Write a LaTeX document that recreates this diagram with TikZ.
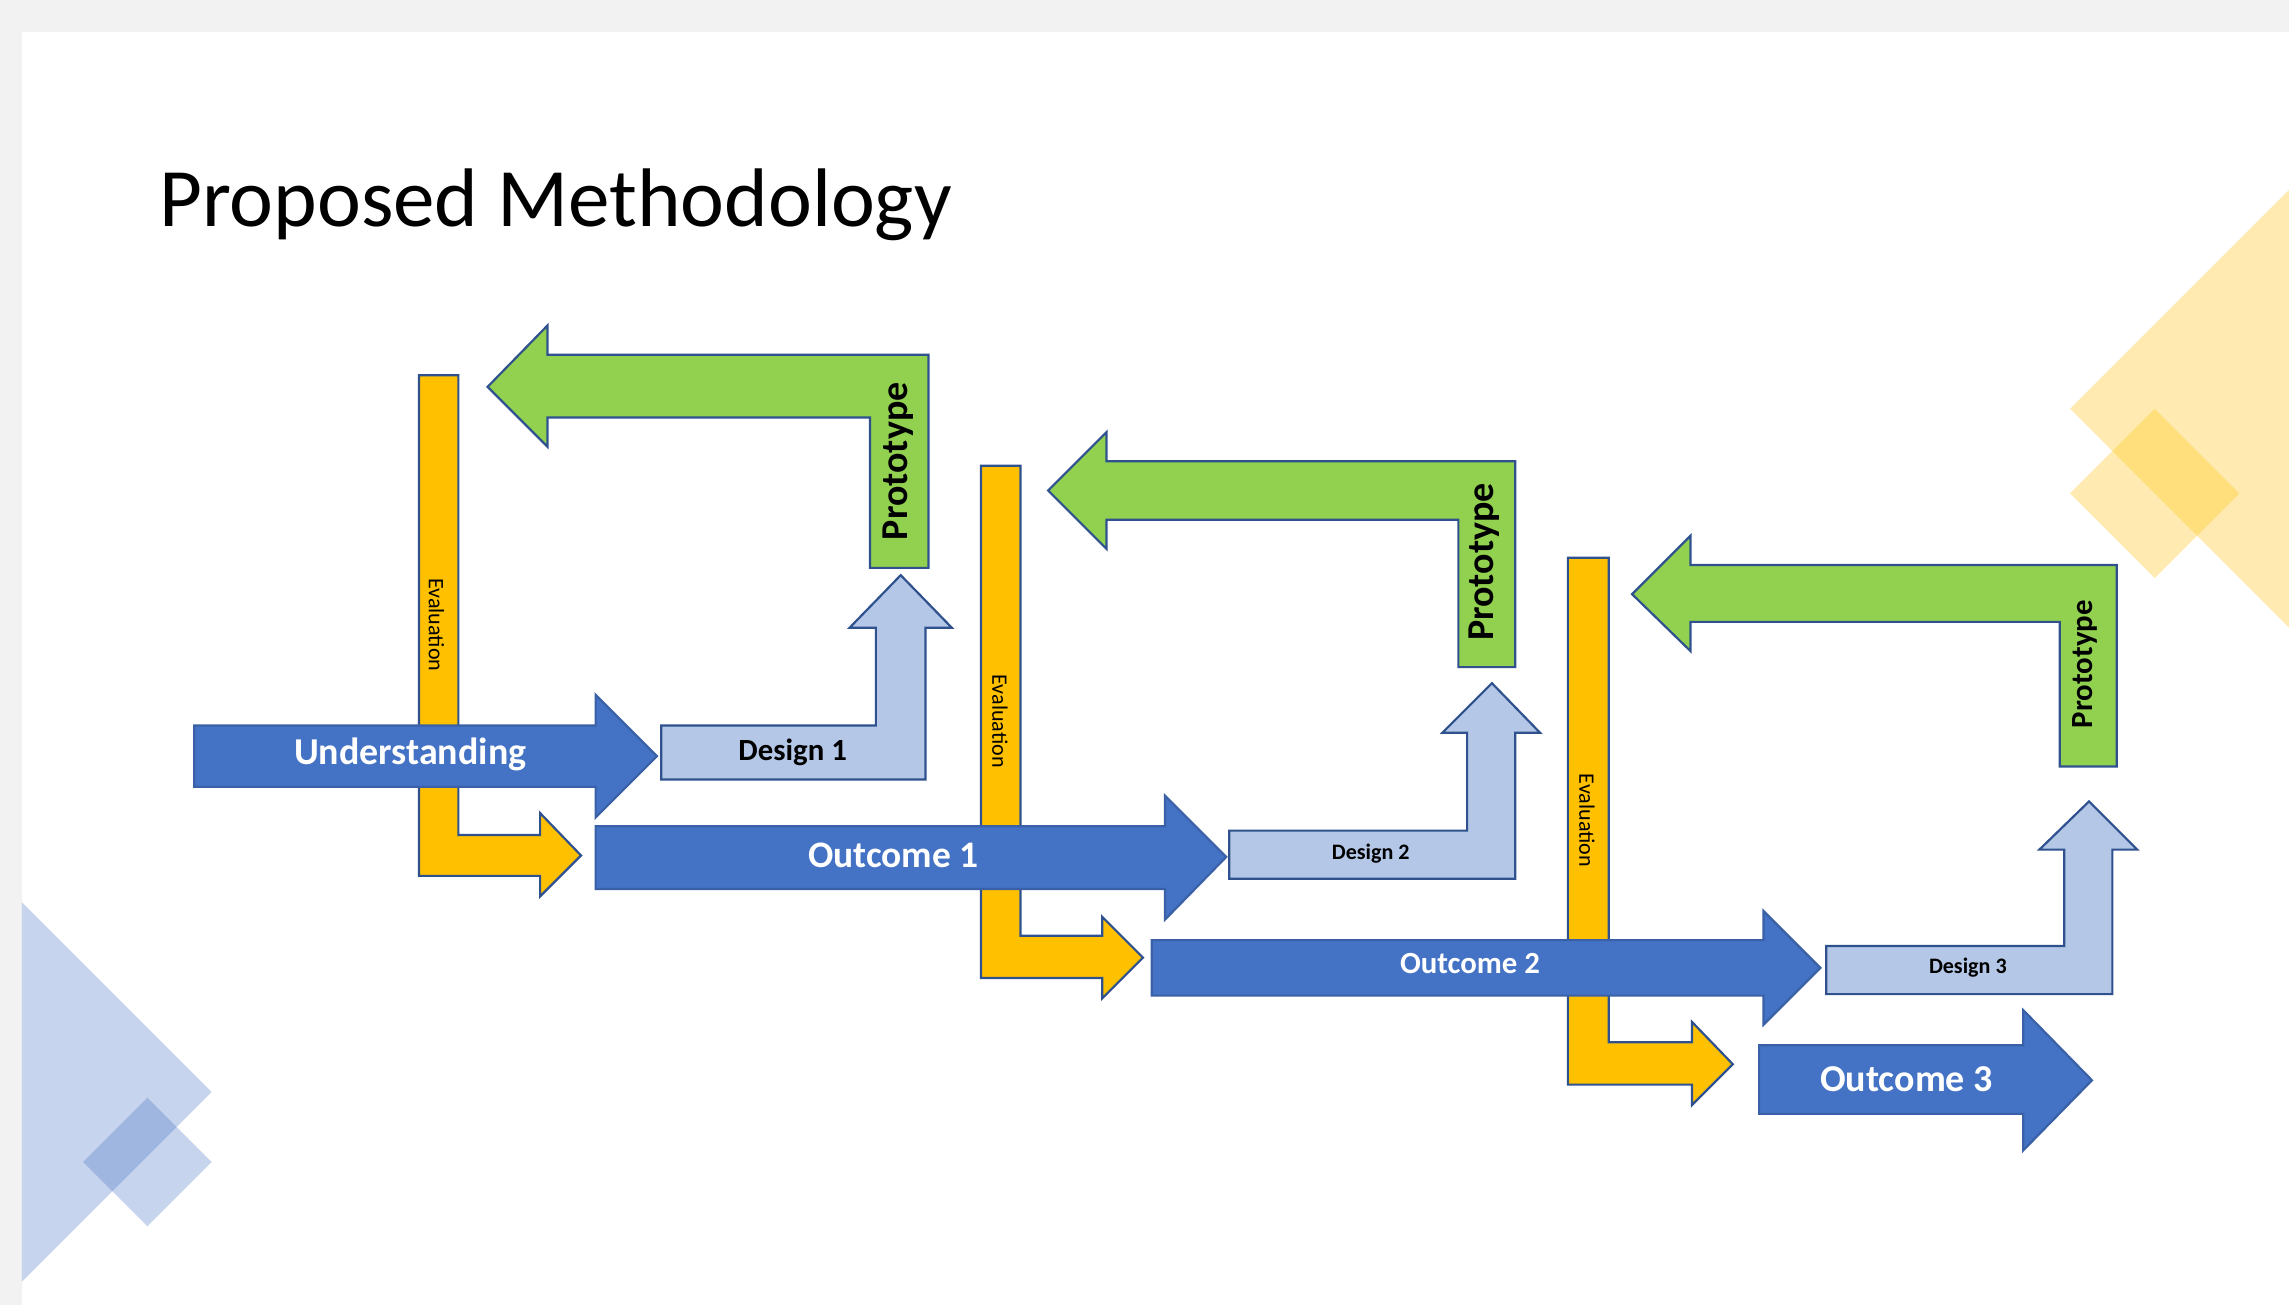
\documentclass[tikz,border=0pt]{standalone}
\usepackage{fontspec}
\setmainfont{Carlito}
\definecolor{bgray}{HTML}{F2F2F2}
\definecolor{ablue}{HTML}{4472C4}
\definecolor{lblue}{HTML}{B4C7E7}
\definecolor{agreen}{HTML}{92D050}
\definecolor{ayellow}{HTML}{FFC000}
\definecolor{edgec}{HTML}{2F528F}
\tikzset{
  shp/.style={draw=edgec, line width=0.15mm, line join=miter},
  bluearrow/.style={shp, fill=ablue, draw=ablue!85!black},
  designarrow/.style={shp, fill=lblue},
  protoarrow/.style={shp, fill=agreen},
  evalarrow/.style={shp, fill=ayellow},
  lbl/.style={inner sep=0pt, outer sep=0pt},
}
\newcommand{\fsz}[1]{\fontsize{#1}{#1}\selectfont}
\begin{document}
\begin{tikzpicture}[x=0.1mm,y=-0.1mm]
\fill[bgray] (0,0) rectangle (1568,894);
\fill[white] (15,22) rectangle (1568,894);
\useasboundingbox (0,0) rectangle (1568,894);
% background decorations
\begin{scope}
\clip (15,22) rectangle (1568,894);
\fill[ablue, opacity=0.3] (15,618) -- (145,748) -- (15,878) -- (-115,748) -- cycle;
\fill[ablue, opacity=0.3] (101,752) -- (145,796) -- (101,840) -- (57,796) -- cycle;
\fill[ayellow, opacity=0.3] (1568,130) -- (1718,280) -- (1568,430) -- (1418,280) -- cycle;
\fill[ayellow, opacity=0.3] (1476,280) -- (1534,338) -- (1476,396) -- (1418,338) -- cycle;
\end{scope}
% title
\node[lbl, anchor=base west, font=\fsz{16.2}] (title) at (109,155) {Proposed Methodology};
% evaluation bent arrows (behind)
\filldraw[evalarrow] (287,257) -- (314,257) -- (314,572) -- (370,572) -- (370,557) -- (398,586) -- (370,614) -- (370,600) -- (287,600) -- cycle;
\filldraw[evalarrow] (672,319) -- (699,319) -- (699,641) -- (755,641) -- (755,628) -- (783,656) -- (755,684) -- (755,670) -- (672,670) -- cycle;
\filldraw[evalarrow] (1074,382) -- (1102,382) -- (1102,714) -- (1159,714) -- (1159,700) -- (1187,729) -- (1159,757) -- (1159,743) -- (1074,743) -- cycle;
% prototype arrows
\filldraw[protoarrow] (636,243) -- (636,389) -- (596,389) -- (596,286) -- (375,286) -- (375,306) -- (334,265) -- (375,223) -- (375,243) -- cycle;
\filldraw[protoarrow] (1038,316) -- (1038,457) -- (999,457) -- (999,356) -- (758,356) -- (758,376) -- (718,336) -- (758,296) -- (758,316) -- cycle;
\filldraw[protoarrow] (1450,387) -- (1450,525) -- (1411,525) -- (1411,426) -- (1158,426) -- (1158,446) -- (1118,407) -- (1158,367) -- (1158,387) -- cycle;
% design arrows
\filldraw[designarrow] (453,497) -- (600,497) -- (600,430) -- (582,430) -- (617,394) -- (652,430) -- (634,430) -- (634,534) -- (453,534) -- cycle;
\filldraw[designarrow] (842,569) -- (1005,569) -- (1005,502) -- (988,502) -- (1022,468) -- (1055,502) -- (1038,502) -- (1038,602) -- (842,602) -- cycle;
\filldraw[designarrow] (1251,648) -- (1414,648) -- (1414,582) -- (1397,582) -- (1431,549) -- (1464,582) -- (1447,582) -- (1447,681) -- (1251,681) -- cycle;
% blue arrows
\filldraw[bluearrow] (133,497) -- (408,497) -- (408,476) -- (450,518) -- (408,560) -- (408,539) -- (133,539) -- cycle;
\filldraw[bluearrow] (408,566) -- (798,566) -- (798,545) -- (840,587) -- (798,630) -- (798,609) -- (408,609) -- cycle;
\filldraw[bluearrow] (789,644) -- (1208,644) -- (1208,624) -- (1247,663) -- (1208,702) -- (1208,682) -- (789,682) -- cycle;
\filldraw[bluearrow] (1205,716) -- (1386,716) -- (1386,692) -- (1433,740) -- (1386,788) -- (1386,763) -- (1205,763) -- cycle;
% labels
\node[lbl, text=white, font=\fsz{7.4}\bfseries] (und) at (281,517) {Understanding};
\node[lbl, text=white, font=\fsz{7.3}\bfseries] (out1) at (612,586) {Outcome 1};
\node[lbl, text=white, font=\fsz{6.0}\bfseries] (out2) at (1007,660) {Outcome 2};
\node[lbl, text=white, font=\fsz{7.4}\bfseries] (out3) at (1306,739) {Outcome 3};
\node[lbl, font=\fsz{6.0}\bfseries] (des1) at (543,515) {Design 1};
\node[lbl, font=\fsz{4.3}\bfseries] (des2) at (939,585) {Design 2};
\node[lbl, font=\fsz{4.3}\bfseries] (des3) at (1348,663) {Design 3};
\node[lbl, rotate=90, font=\fsz{7.4}\bfseries] (pro1) at (615,316) {Prototype};
\node[lbl, rotate=90, font=\fsz{7.4}\bfseries] (pro2) at (1017,385) {Prototype};
\node[lbl, rotate=90, font=\fsz{6.0}\bfseries] (pro3) at (1428,455) {Prototype};
\node[lbl, rotate=-90, font=\fsz{4.3}] (ev1) at (299,428) {Evaluation};
\node[lbl, rotate=-90, font=\fsz{4.3}] (ev2) at (685,494) {Evaluation};
\node[lbl, rotate=-90, font=\fsz{4.3}] (ev3) at (1087,562) {Evaluation};
\end{tikzpicture}
\end{document}
